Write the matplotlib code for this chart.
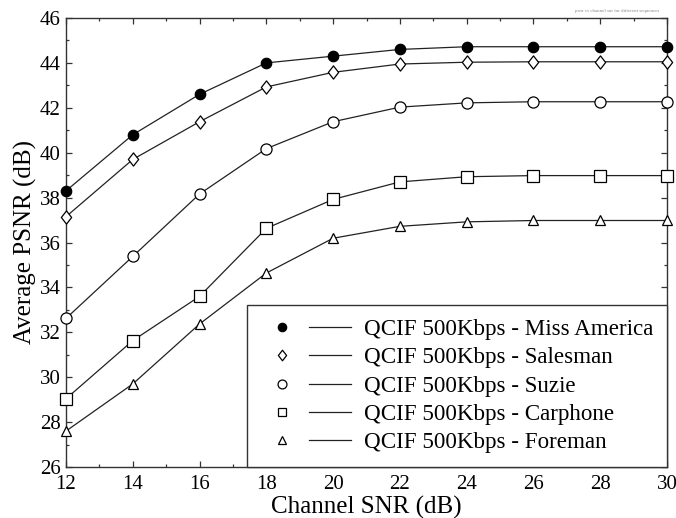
import matplotlib
matplotlib.use("Agg")
import matplotlib.pyplot as plt
from matplotlib.lines import Line2D
from matplotlib.legend_handler import HandlerTuple
from matplotlib.ticker import MultipleLocator
from matplotlib.path import Path

snr = [12, 14, 16, 18, 20, 22, 24, 26, 28, 30]
miss_america = [38.3, 40.8, 42.6, 44.0, 44.3, 44.6, 44.72, 44.72, 44.72, 44.72]
salesman = [37.15, 39.7, 41.38, 42.93, 43.58, 43.95, 44.03, 44.05, 44.05, 44.05]
suzie = [32.62, 35.38, 38.16, 40.18, 41.38, 42.03, 42.22, 42.27, 42.27, 42.27]
carphone = [29.04, 31.63, 33.6, 36.63, 37.92, 38.7, 38.93, 38.98, 38.98, 38.98]
foreman = [27.6, 29.7, 32.37, 34.64, 36.19, 36.72, 36.92, 36.98, 36.98, 36.98]
labels = ["QCIF 500Kbps - Miss America", "QCIF 500Kbps - Salesman",
          "QCIF 500Kbps - Suzie", "QCIF 500Kbps - Carphone",
          "QCIF 500Kbps - Foreman"]

plt.rcParams['font.family'] = ['Liberation Serif', 'DejaVu Serif']

diamond = Path([(0, 1), (0.78, 0), (0, -1), (-0.78, 0), (0, 1)],
               [Path.MOVETO, Path.LINETO, Path.LINETO, Path.LINETO, Path.CLOSEPOLY])

fig = plt.figure(figsize=(6.76, 5.18), dpi=100)
ax = fig.add_axes([66/676, 1-467/518, (667-66)/676, (467-18)/518])

series = [miss_america, salesman, suzie, carphone, foreman]
markers = ['o', diamond, 'o', 's', '^']
faces = ['black', 'white', 'white', 'white', 'white']
sizes = [7.5, 9.5, 8, 8, 7.5]
lc = '#222222'
handles = []
for vals, m, fc, ms in zip(series, markers, faces, sizes):
    ax.plot(snr, vals, color=lc, lw=0.9, zorder=2)
    ax.plot(snr, vals, ls='none', marker=m, ms=ms, mfc=fc, mec='black',
            mew=0.9, zorder=3, clip_on=False)
    h_m = Line2D([], [], ls='none', marker=m, ms=ms*0.8, mfc=fc, mec='black', mew=0.9)
    h_l = Line2D([], [], color=lc, lw=0.9)
    handles.append((h_m, h_l))

ax.set_xlim(12, 30)
ax.set_ylim(26, 46)
ax.xaxis.set_major_locator(MultipleLocator(2))
ax.xaxis.set_minor_locator(MultipleLocator(1))
ax.yaxis.set_major_locator(MultipleLocator(2))
ax.yaxis.set_minor_locator(MultipleLocator(1))
ax.tick_params(which='both', direction='in', top=True, right=True,
               labelsize=15, color='#333333')
ax.tick_params(which='major', length=4, width=0.9, pad=4)
ax.tick_params(axis='x', which='major', pad=6)
ax.tick_params(which='minor', length=2.5, width=0.9)
for s in ax.spines.values():
    s.set_color('#333333')
    s.set_linewidth(1.0)

ax.set_xlabel("Channel SNR (dB)", fontsize=18, labelpad=1)
ax.set_ylabel("Average PSNR (dB)", fontsize=18, labelpad=2)

leg = ax.legend(handles, labels, loc='lower right', bbox_to_anchor=(1, 0),
                borderaxespad=0, fontsize=16.6, frameon=True, fancybox=False,
                edgecolor='#333333', handlelength=3.9, handletextpad=0.55,
                labelspacing=0.31, borderpad=0.6,
                handler_map={tuple: HandlerTuple(ndivide=None, pad=0.28)})
leg.get_frame().set_linewidth(1.0)
leg.get_frame().set_alpha(1)

fig.text(0.975, 0.978, "psnr vs channel snr for different sequences",
         fontsize=3.5, color='#888888', ha='right', va='center')

fig.savefig("out.png", dpi=100)
